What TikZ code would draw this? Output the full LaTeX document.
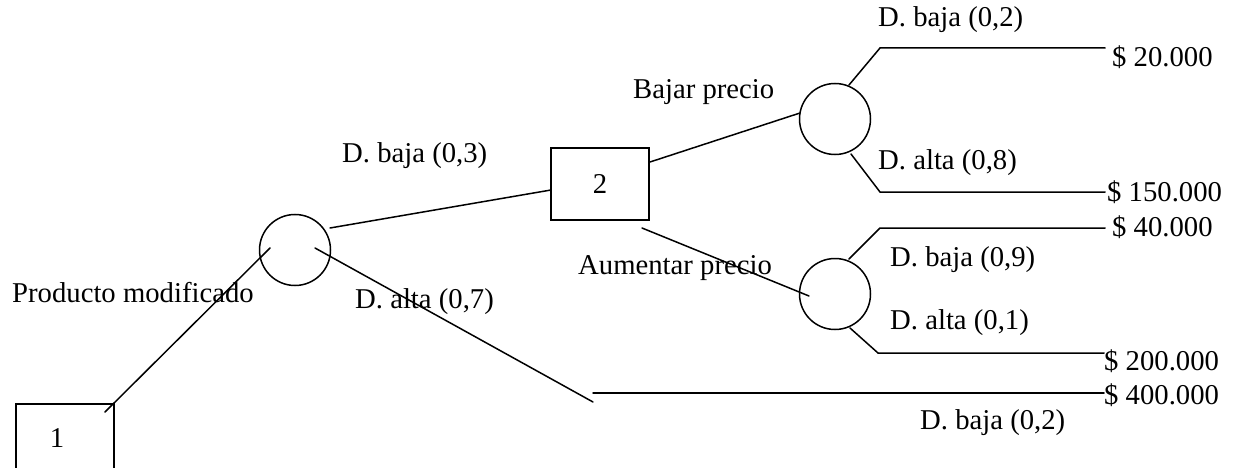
\documentclass[tikz,border=0pt]{standalone}
\usepackage{fontspec}
\setmainfont{Liberation Serif}
\begin{document}
\begin{tikzpicture}[x=1pt,y=-1pt,
  every node/.style={font=\fontsize{28.7}{34}\selectfont},
  ln/.style={line width=1.5pt, line cap=round},
  chance/.style={circle, draw, line width=1.5pt, minimum size=71pt, inner sep=0pt},
  decision/.style={rectangle, draw, line width=1.5pt, inner sep=0pt},
  lbl/.style={anchor=base west, inner sep=0pt}]
\useasboundingbox (0,0) rectangle (1237,468);
% decision boxes
\node[decision, minimum width=98pt, minimum height=92pt, anchor=north west] (b1) at (15,403) {};
\node[inner sep=0pt] (t1) at (57,438) {1};
\node[decision, minimum width=98pt, minimum height=72pt] (b2) at (600,184) {2};
% chance nodes
\node[chance] (c1) at (295,250) {};
\node[chance] (c3) at (835,119) {};
\node[chance] (c4) at (835,294) {};
% connector points
\coordinate (a1) at (105,412);
\coordinate (a2) at (270,248);
\coordinate (d1) at (330,228);
\coordinate (d2) at (551,190);
\coordinate (e1) at (315,248);
\coordinate (e2) at (593,402);
\coordinate (e3) at (593,393);
\coordinate (e4) at (1104,393);
\coordinate (f1) at (650,162);
\coordinate (f2) at (800,113);
\coordinate (g1) at (642,228);
\coordinate (g2) at (809,296);
\coordinate (h1) at (849,85);
\coordinate (h2) at (880,48);
\coordinate (h3) at (1105,48);
\coordinate (i1) at (851,154);
\coordinate (i2) at (880,192);
\coordinate (i3) at (1105,192);
\coordinate (j1) at (849,259);
\coordinate (j2) at (880,228);
\coordinate (j3) at (1105,228);
\coordinate (k1) at (850,328);
\coordinate (k2) at (878,353);
\coordinate (k3) at (1104,353);
% connectors
\draw[ln] (a1) -- (a2);
\draw[ln] (d1) -- (d2);
\draw[ln] (e1) -- (e2);
\draw[ln] (e3) -- (e4);
\draw[ln] (f1) -- (f2);
\draw[ln] (g1) -- (g2);
\draw[ln] (h1) -- (h2) -- (h3);
\draw[ln] (i1) -- (i2) -- (i3);
\draw[ln] (j1) -- (j2) -- (j3);
\draw[ln] (k1) -- (k2) -- (k3);
% labels
\node[lbl] (l1) at (12,302) {Producto modificado};
\node[lbl] (l2) at (342,163) {D. baja (0,3)};
\node[lbl] (l3) at (355,308) {D. alta (0,7)};
\node[lbl] (l4) at (633,99) {Bajar precio};
\node[lbl] (l5) at (578,274) {Aumentar precio};
\node[lbl] (l6) at (878,27) {D. baja (0,2)};
\node[lbl] (l7) at (878,170) {D. alta (0,8)};
\node[lbl] (l8) at (890,266) {D. baja (0,9)};
\node[lbl] (l9) at (890,329) {D. alta (0,1)};
\node[lbl] (l10) at (920,429) {D. baja (0,2)};
\node[lbl] (v1) at (1112,67) {\$ 20.000};
\node[lbl] (v2) at (1107,201) {\$ 150.000};
\node[lbl] (v3) at (1112,236) {\$ 40.000};
\node[lbl] (v4) at (1104,370) {\$ 200.000};
\node[lbl] (v5) at (1104,404) {\$ 400.000};
\end{tikzpicture}
\end{document}
